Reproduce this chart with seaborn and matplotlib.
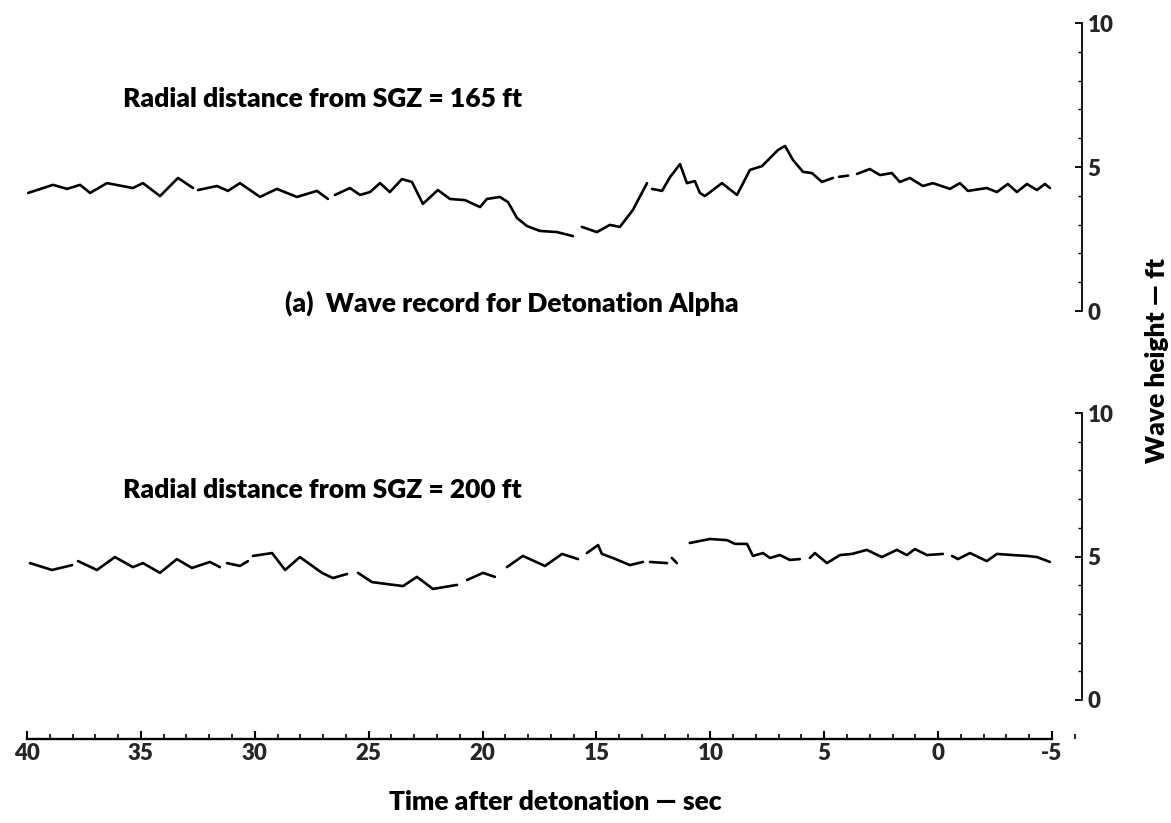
import numpy as np
import pandas as pd
import matplotlib
matplotlib.use("Agg")
import matplotlib.pyplot as plt
import seaborn as sns
from matplotlib.ticker import MultipleLocator

# Wave record, Detonation Alpha, radial distance 165 ft (NaN = pen lift)
time_165 = [39.95, 38.86, 38.24, 37.67, 37.23, 36.49, 35.35, 34.91, 34.16, 33.37, 32.71, np.nan,
            32.49, 31.66, 31.18, 30.65, 29.77, 29.03, 28.15, 27.27, 26.79, np.nan,
            26.48, 25.82, 25.38, 24.94, 24.50, 24.07, 23.54, 23.10, 22.62, 21.96, 21.43, 20.77,
            20.11, 19.81, 19.24, 18.88, 18.49, 18.05, 17.48, 16.73, 16.03, np.nan,
            15.64, 14.98, 14.41, 13.97, 13.40, 12.78, np.nan,
            12.56, 12.12, 11.77, 11.33, 11.03, 10.68, 10.46, 10.24, 9.49, 8.83, 8.26, 7.73,
            7.03, 6.72, 6.37, 5.93, 5.54, 5.10, 4.62, np.nan,
            4.35, 3.95, np.nan,
            3.56, 3.00, 2.55, 2.03, 1.68, 1.24, 0.67, 0.23, -0.52, -0.96, -1.31, -2.14, -2.58,
            -3.06, -3.46, -3.90, -4.34, -4.69, -4.91]
height_165 = [4.10, 4.38, 4.24, 4.38, 4.10, 4.44, 4.27, 4.44, 3.99, 4.62, 4.27, np.nan,
              4.20, 4.34, 4.17, 4.44, 3.96, 4.24, 3.96, 4.17, 3.89, np.nan,
              4.03, 4.27, 4.03, 4.13, 4.44, 4.13, 4.58, 4.48, 3.72, 4.20, 3.89, 3.85,
              3.61, 3.89, 3.96, 3.78, 3.23, 2.95, 2.78, 2.74, 2.60, np.nan,
              2.92, 2.74, 2.99, 2.92, 3.51, 4.44, np.nan,
              4.24, 4.17, 4.65, 5.10, 4.44, 4.51, 4.10, 3.99, 4.44, 4.03, 4.90, 5.03,
              5.59, 5.73, 5.24, 4.83, 4.79, 4.48, 4.62, np.nan,
              4.66, 4.70, np.nan,
              4.76, 4.93, 4.72, 4.79, 4.48, 4.62, 4.34, 4.44, 4.24, 4.44, 4.17, 4.27, 4.13,
              4.41, 4.13, 4.41, 4.20, 4.41, 4.27]

# Wave record, radial distance 200 ft
time_200 = [39.87, 38.90, 38.02, np.nan,
            37.76, 36.93, 36.14, 35.35, 34.91, 34.16, 33.42, 32.76, 31.97, 31.53, np.nan,
            31.22, 30.65, 30.30, np.nan,
            30.08, 29.24, 28.67, 28.02, 27.05, 26.57, 25.95, np.nan,
            25.47, 24.86, 24.20, 23.49, 22.88, 22.18, 21.12, np.nan,
            20.68, 19.98, 19.46, np.nan,
            18.93, 18.23, 17.26, 16.51, 15.81, np.nan,
            15.42, 14.93, 14.76, 14.28, 13.53, 12.96, np.nan,
            12.65, 11.90, np.nan,
            11.69, 11.47, np.nan,
            10.90, 10.02, 9.27, 8.92, 8.39, 8.13, 7.69, 7.38, 6.94, 6.51, 6.07, np.nan,
            5.63, 5.41, 4.88, 4.31, 3.78, 3.13, 2.47, 1.81, 1.37, 1.02, 0.49, -0.21, np.nan,
            -0.61, -0.87, -1.40, -2.14, -2.58, -3.28, -3.90, -4.34, -4.91]
height_200 = [4.77, 4.53, 4.70, np.nan,
              4.84, 4.53, 4.98, 4.63, 4.77, 4.43, 4.91, 4.60, 4.81, 4.63, np.nan,
              4.77, 4.67, 4.84, np.nan,
              5.02, 5.12, 4.53, 4.98, 4.43, 4.25, 4.39, np.nan,
              4.43, 4.11, 4.04, 3.97, 4.29, 3.87, 4.01, np.nan,
              4.18, 4.43, 4.29, np.nan,
              4.63, 5.02, 4.67, 5.09, 4.91, np.nan,
              5.12, 5.40, 5.09, 4.95, 4.70, 4.81, np.nan,
              4.81, 4.77, np.nan,
              4.95, 4.77, np.nan,
              5.47, 5.61, 5.57, 5.44, 5.44, 5.02, 5.12, 4.95, 5.05, 4.88, 4.91, np.nan,
              4.95, 5.12, 4.77, 5.05, 5.09, 5.23, 4.98, 5.23, 5.05, 5.26, 5.05, 5.09, np.nan,
              5.02, 4.91, 5.12, 4.84, 5.09, 5.05, 5.02, 4.98, 4.81]

x_ticks = [40, 35, 30, 25, 20, 15, 10, 5, 0, -5]
y_ticks = [0, 5, 10]

label_165 = "Radial distance from SGZ = 165 ft"
label_200 = "Radial distance from SGZ = 200 ft"
caption_a = "(a)  Wave record for Detonation Alpha"
x_title = "Time after detonation \u2014 sec"
y_title = "Wave height \u2014 ft"


def to_frame(t, h):
    df = pd.DataFrame({"t": t, "h": h})
    df["seg"] = df["h"].isna().cumsum()
    return df.dropna()


sns.set_theme(style="white")
plt.rcParams["font.family"] = ["Lato", "DejaVu Sans"]
plt.rcParams["font.weight"] = "heavy"
WEIGHT = "heavy"

W, H = 1171, 823
fig = plt.figure(figsize=(W / 100, H / 100), dpi=100)

x_left, x_right = 27, 1082          # pixel span of each panel
t_left = 40
px_per_sec = (1052 - 27) / 45.0
t_right = t_left - (x_right - x_left) / px_per_sec


def panel(y0_px, y10_px):
    return fig.add_axes([x_left / W, (H - y0_px) / H,
                         (x_right - x_left) / W, (y0_px - y10_px) / H])


ax_top = panel(311, 23)
ax_bot = panel(700, 413)

for ax, (t, h) in ((ax_top, (time_165, height_165)), (ax_bot, (time_200, height_200))):
    df = to_frame(t, h)
    sns.lineplot(data=df, x="t", y="h", units="seg", estimator=None, sort=False,
                 color="black", linewidth=1.9, ax=ax, legend=False)
    ax.set_xlim(t_left, t_right)
    ax.set_ylim(0, 10)
    ax.set_facecolor("white")
    for side in ("top", "left", "bottom"):
        ax.spines[side].set_visible(False)
    ax.spines["right"].set_color("black")
    ax.spines["right"].set_linewidth(1.3)
    ax.yaxis.tick_right()
    ax.set_yticks(y_ticks)
    ax.yaxis.set_minor_locator(MultipleLocator(1))
    ax.tick_params(axis="y", which="major", direction="in", length=5, width=1.3,
                   color="black", labelsize=16, pad=4, right=True, left=False)
    ax.tick_params(axis="y", which="minor", direction="in", length=3, width=1.0,
                   color="black", right=True, left=False)
    ax.set_xlabel("")
    ax.set_ylabel("")
    ax.set_xticks([])
    for lbl in ax.get_yticklabels():
        lbl.set_fontweight(WEIGHT)

# time axis below the lower panel
sp = ax_bot.spines["bottom"]
sp.set_visible(True)
sp.set_color("black")
sp.set_linewidth(1.7)
sp.set_position(("outward", 28))
sp.set_bounds(40, -5)
ax_bot.set_xticks(x_ticks)
ax_bot.set_xticklabels([str(v) for v in x_ticks], fontweight=WEIGHT)
ax_bot.xaxis.set_minor_locator(MultipleLocator(1))
ax_bot.tick_params(axis="x", which="major", direction="in", length=6, width=1.5,
                   color="black", labelsize=16, pad=3, bottom=True)
ax_bot.tick_params(axis="x", which="minor", direction="in", length=3.5, width=1.2,
                   color="black", bottom=True)
ax_bot.set_xlim(t_left, t_right)


def ftext(x, y, s, **kw):
    fig.text(x / W, 1 - y / H, s, fontweight=WEIGHT, color="black", **kw)


ftext(123, 99, label_165, fontsize=19, ha="left", va="center")
ftext(123, 490, label_200, fontsize=19, ha="left", va="center")
ftext(512, 303, caption_a, fontsize=19, ha="center", va="center")
ftext(555, 802, x_title, fontsize=19, ha="center", va="center")
ftext(1157, 360, y_title, fontsize=19, ha="center", va="center", rotation=90)

fig.savefig("out.png", dpi=100, facecolor="white")
